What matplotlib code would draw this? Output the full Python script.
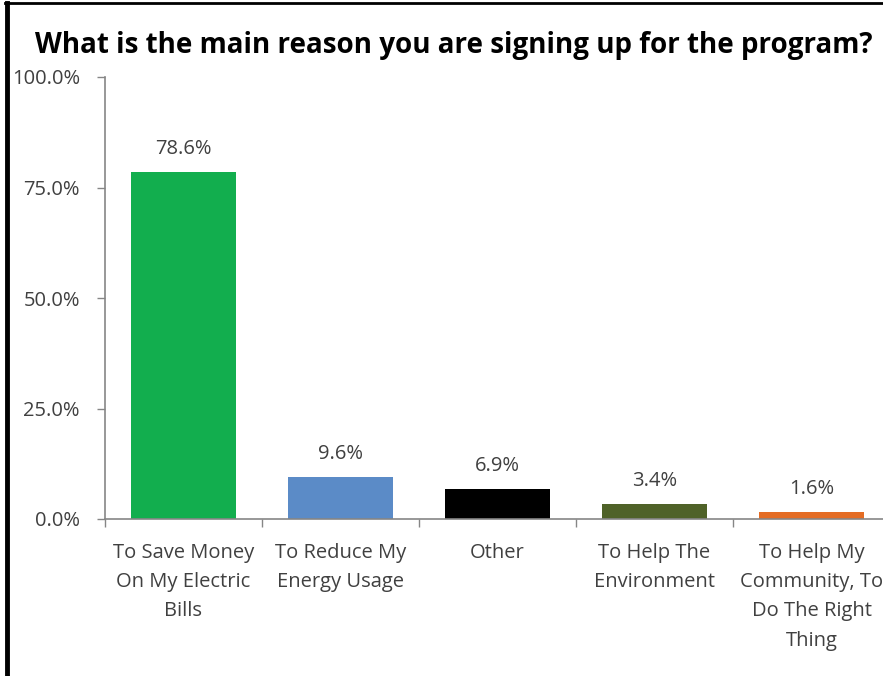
import matplotlib
matplotlib.use("Agg")
import matplotlib.pyplot as plt
from matplotlib.lines import Line2D
from matplotlib.ticker import FuncFormatter, FixedLocator

categories = ["To Save Money\nOn My Electric\nBills",
              "To Reduce My\nEnergy Usage",
              "Other",
              "To Help The\nEnvironment",
              "To Help My\nCommunity, To\nDo The Right\nThing"]
values = [78.6, 9.6, 6.9, 3.4, 1.6]
colors = ["#12AE4E", "#5B8BC7", "#000000", "#4F6228", "#E46C24"]
yticks = [0, 25, 50, 75, 100]
title = "What is the main reason you are signing up for the program?"

plt.rcParams['font.family'] = ['Open Sans', 'DejaVu Sans']

fig = plt.figure(figsize=(8.83, 6.76), dpi=100)
ax = fig.add_axes([105/883, 1-519/676, 785/883, (519-77)/676])

x = list(range(len(values)))
bars = ax.bar(x, values, width=0.67, color=colors)
ax.set_xlim(-0.5, len(values)-0.5)
ax.set_ylim(0, 100)

txtcol = "#404040"
fs = 14.5
for xi, v in zip(x, values):
    ax.annotate(f"{v:.1f}%", (xi, v), xytext=(0, 9), textcoords="offset points",
                ha="center", va="bottom", fontsize=fs, color=txtcol)

ax.set_yticks(yticks)
ax.yaxis.set_major_formatter(FuncFormatter(lambda v, p: f"{v:.1f}%"))
ax.tick_params(axis='y', length=6, width=1, color="#868686", labelsize=fs,
               labelcolor=txtcol, pad=12)

ax.xaxis.set_major_locator(FixedLocator([i - 0.5 for i in range(len(values) + 1)]))
ax.set_xticklabels([])
ax.xaxis.set_minor_locator(FixedLocator(x))
ax.set_xticklabels(categories, minor=True)
ax.tick_params(axis='x', which='major', length=6, width=1, color="#868686")
ax.tick_params(axis='x', which='minor', length=0, labelsize=fs,
               labelcolor=txtcol, pad=17)
for lab in ax.get_xticklabels(minor=True):
    lab.set_linespacing(1.62)
    lab.set_verticalalignment("top")

for s in ["top", "right"]:
    ax.spines[s].set_visible(False)
for s in ["left", "bottom"]:
    ax.spines[s].set_color("#868686")
    ax.spines[s].set_linewidth(1.2)

fig.text(35/883, 1-45/676, title, fontsize=20, fontweight="bold", color="#000000",
         ha="left", va="center")

fig.add_artist(Line2D([7/883, 7/883], [0, 1-3/676], transform=fig.transFigure,
                      color="black", linewidth=3.5))
fig.add_artist(Line2D([5/883, 1], [1-3/676, 1-3/676], transform=fig.transFigure,
                      color="black", linewidth=2))

fig.savefig("out.png", dpi=100)
